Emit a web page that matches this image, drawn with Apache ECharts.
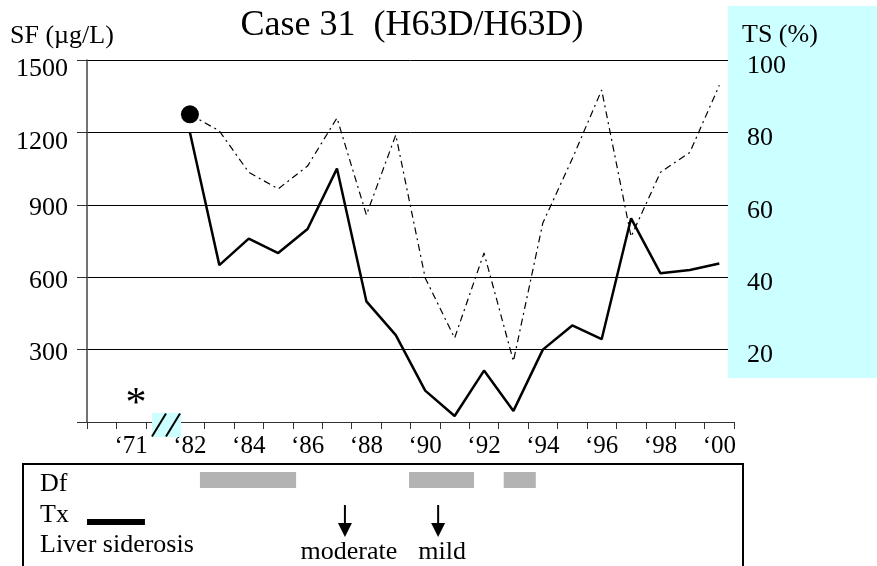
<!DOCTYPE html>
<html><head><meta charset="utf-8">
<script src="https://cdn.jsdelivr.net/npm/echarts@6/dist/echarts.min.js"></script>
<style>html,body{margin:0;padding:0;background:#fff}#c{width:877px;height:566px}</style>
</head><body><div id="c"></div>
<script>
// ---- data ----
const categories = ['', '\u201871', '', '\u201882', '\u201883', '\u201884', '\u201885', '\u201886', '\u201887', '\u201888', '\u201889', '\u201890', '\u201891', '\u201892', '\u201893', '\u201894', '\u201895', '\u201896', '\u201897', '\u201898', '\u201899', '\u201800'];
const sfValues = [null, null, null, 1200, 650, 760, 700, 800, 1050, 500, 360, 130, 25, 213, 46, 300, 400, 343, 844, 616, 630, 657];
const tsValues = [null, null, null, 85, 80.4, 69, 64.4, 70.7, 84, 57.2, 79.3, 39.8, 23.2, 46.7, 16.8, 55, 72.7, 91.7, 51.2, 69, 74.5, 93];
const sfAxis = {min: 0, max: 1500, interval: 300};
const tsAxis = {min: 0, max: 100, interval: 20};
// spans / events in category-band units of the x axis (0 = left edge of first band)
const dfSpans = [[3.84, 7.11], [10.95, 13.16], [14.17, 15.26]];
const txSpans = [[0, 1.97]];
const siderosisPos = [8.77, 11.94];
const siderosisText = ['moderate', 'mild'];

const FONT = '"Liberation Serif", "Times New Roman", serif';
const chart = echarts.init(document.getElementById('c'), null, {renderer: 'canvas'});

function spanRenderer(yOff, h, color) {
  return function (params, api) {
    const a = api.coord([api.value(0), 0])[0];
    const b = api.coord([api.value(1), 0])[0];
    const top = params.coordSys.y;
    return {type: 'rect', shape: {x: a, y: top + yOff, width: b - a, height: h}, style: {fill: color}};
  };
}
function arrowRenderer(params, api) {
  const x = api.coord([api.value(0), 0])[0];
  const top = params.coordSys.y;
  return {type: 'group', children: [
    {type: 'line', shape: {x1: x, y1: top + 41, x2: x, y2: top + 61}, style: {stroke: '#000', lineWidth: 2}},
    {type: 'polygon', shape: {points: [[x - 7, top + 59], [x + 7, top + 59], [x, top + 73]]}, style: {fill: '#000'}},
    {type: 'text', style: {text: siderosisText[params.dataIndex], x: x + 4, y: top + 88, align: 'center', verticalAlign: 'middle', fontSize: 26, fontFamily: FONT, fill: '#000'}}
  ]};
}

const option = {
  animation: false,
  backgroundColor: '#fff',
  grid: [
    {left: 87, right: 143, top: 60, bottom: 144, containLabel: false, outerBoundsMode: 'none'},
    {left: 87, right: 143, top: 464, height: 102, containLabel: false, outerBoundsMode: 'none'}
  ],
  xAxis: [
    {type: 'category', gridIndex: 0, data: categories, boundaryGap: true,
     axisLine: {lineStyle: {color: '#333', width: 1}},
     axisTick: {show: true, interval: 0, length: 7, lineStyle: {color: '#333'}},
     axisLabel: {interval: function (i) { return i % 2 === 1; }, margin: 12, fontSize: 25, fontFamily: FONT, color: '#000'},
     splitLine: {show: false}},
    {type: 'value', gridIndex: 1, min: 0, max: categories.length, show: false}
  ],
  yAxis: [
    {type: 'value', gridIndex: 0, min: sfAxis.min, max: sfAxis.max, interval: sfAxis.interval, position: 'left',
     axisLine: {show: true, lineStyle: {color: '#444', width: 1.5}},
     axisTick: {show: true, length: 10, lineStyle: {color: '#333'}},
     axisLabel: {margin: 19, color: '#000', fontSize: 26, fontFamily: FONT,
       formatter: function (v) { if (v === 0) return ''; return v >= 1200 ? '{a|' + v + '}' : '{b|' + v + '}'; },
       rich: {a: {fontSize: 26, fontFamily: FONT, color: '#000', padding: [19, 0, 0, 0]},
              b: {fontSize: 26, fontFamily: FONT, color: '#000', padding: [7, 0, 0, 0]}}},
     splitLine: {show: true, lineStyle: {color: '#000', width: 1}}},
    {type: 'value', gridIndex: 0, min: tsAxis.min, max: tsAxis.max, interval: tsAxis.interval, position: 'right', z: 6,
     axisLine: {show: false}, axisTick: {show: false}, splitLine: {show: false},
     axisLabel: {margin: 13, align: 'left', color: '#000', fontSize: 26, fontFamily: FONT,
       formatter: function (v) { return v === 0 ? '' : '{r|' + v + '}'; },
       rich: {r: {fontSize: 26, fontFamily: FONT, color: '#000', padding: [12, 0, 0, 0]}}}},
    {type: 'value', gridIndex: 1, min: 0, max: 1, show: false}
  ],
  series: [
    {name: 'SF', type: 'line', xAxisIndex: 0, yAxisIndex: 0, data: sfValues, showSymbol: false, symbol: 'none',
     lineStyle: {color: '#000', width: 2.5}, z: 3, silent: true},
    {name: 'TS', type: 'line', xAxisIndex: 0, yAxisIndex: 1,
     data: tsValues.map(function (v, i) { return i === 3 ? {value: v, symbol: 'circle', symbolSize: 18} : {value: v, symbol: 'none'}; }),
     showSymbol: true, itemStyle: {color: '#000'},
     lineStyle: {color: '#000', width: 1.2, type: [7, 4, 2, 4]}, z: 3, silent: true},
    {name: 'Df', type: 'custom', xAxisIndex: 1, yAxisIndex: 2, data: dfSpans, renderItem: spanRenderer(8, 16, '#b3b3b3'), silent: true, clip: false},
    {name: 'Tx', type: 'custom', xAxisIndex: 1, yAxisIndex: 2, data: txSpans, renderItem: spanRenderer(55, 6, '#000'), silent: true, clip: false},
    {name: 'Liver siderosis', type: 'custom', xAxisIndex: 1, yAxisIndex: 2, data: siderosisPos.map(function (p) { return [p, 0]; }), renderItem: arrowRenderer, silent: true, clip: false}
  ],
  graphic: [
    {type: 'rect', z: 4, silent: true, shape: {x: 728, y: 6, width: 149, height: 372}, style: {fill: '#ccffff'}},
    {type: 'rect', z: 7, silent: true, shape: {x: 152, y: 413, width: 29, height: 24}, style: {fill: '#ccffff'}},
    {type: 'line', z: 8, silent: true, shape: {x1: 152, y1: 436.5, x2: 166, y2: 413.5}, style: {stroke: '#000', lineWidth: 2}},
    {type: 'line', z: 8, silent: true, shape: {x1: 166, y1: 436.5, x2: 180, y2: 413.5}, style: {stroke: '#000', lineWidth: 2}},
    {type: 'text', z: 8, silent: true, style: {text: '*', x: 136, y: 405, align: 'center', verticalAlign: 'middle', fontSize: 42, fontFamily: FONT, fill: '#000'}},
    {type: 'text', z: 8, silent: true, style: {text: 'Case 31  (H63D/H63D)', x: 412, y: 26, align: 'center', verticalAlign: 'middle', fontSize: 36, fontFamily: FONT, fill: '#000'}},
    {type: 'text', z: 8, silent: true, style: {text: 'SF (\u00b5g/L)', x: 10, y: 36, align: 'left', verticalAlign: 'middle', fontSize: 26, fontFamily: FONT, fill: '#000'}},
    {type: 'text', z: 8, silent: true, style: {text: 'TS (%)', x: 742, y: 35, align: 'left', verticalAlign: 'middle', fontSize: 26, fontFamily: FONT, fill: '#000'}},
    {type: 'rect', z: 8, silent: true, shape: {x: 23, y: 464, width: 720, height: 150}, style: {fill: 'none', stroke: '#000', lineWidth: 2}},
    {type: 'text', z: 8, silent: true, style: {text: 'Df', x: 40, y: 484, align: 'left', verticalAlign: 'middle', fontSize: 26, fontFamily: FONT, fill: '#000'}},
    {type: 'text', z: 8, silent: true, style: {text: 'Tx', x: 40, y: 515, align: 'left', verticalAlign: 'middle', fontSize: 26, fontFamily: FONT, fill: '#000'}},
    {type: 'text', z: 8, silent: true, style: {text: 'Liver siderosis', x: 40, y: 545, align: 'left', verticalAlign: 'middle', fontSize: 26, fontFamily: FONT, fill: '#000'}}
  ]
};
chart.setOption(option);
</script>
</body></html>
